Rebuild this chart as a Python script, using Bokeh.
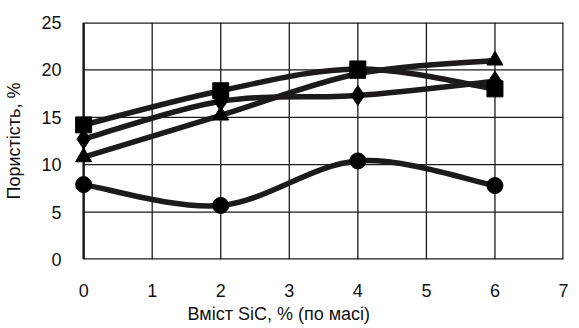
import numpy as np
from bokeh.plotting import figure
from bokeh.models import Range1d, FixedTicker, Title
from bokeh.embed import file_html
from bokeh.resources import INLINE

# ---- data ----
x_sic = [0, 2, 4, 6]
square_vals = [14.2, 17.8, 20.1, 18.0]
diamond_vals = [12.7, 16.7, 17.3, 18.8]
triangle_vals = [10.8, 15.2, 19.6, 21.0]
circle_vals = [7.9, 5.7, 10.4, 7.8]
x_ticks = [0, 1, 2, 3, 4, 5, 6, 7]
y_ticks = [0, 5, 10, 15, 20, 25]
x_label = "Вміст SiC, % (по масі)"
y_label = "Пористість, %"

INK = "#1c1a1a"
TXT = "#111111"
FONT = "Liberation Sans"
FS = "18px"


def smooth_segments(xs, ys):
    """Bezier control points (Catmull-Rom style smoothing, like Excel)."""
    P = np.column_stack([xs, ys]).astype(float)
    ext = np.vstack([P[0], P, P[-1]])
    out = dict(x0=[], y0=[], x1=[], y1=[], cx0=[], cy0=[], cx1=[], cy1=[])
    for i in range(len(P) - 1):
        p0, p1, p2, p3 = ext[i], ext[i + 1], ext[i + 2], ext[i + 3]
        c0 = p1 + (p2 - p0) / 6.0
        c1 = p2 - (p3 - p1) / 6.0
        out["x0"].append(p1[0]); out["y0"].append(p1[1])
        out["x1"].append(p2[0]); out["y1"].append(p2[1])
        out["cx0"].append(c0[0]); out["cy0"].append(c0[1])
        out["cx1"].append(c1[0]); out["cy1"].append(c1[1])
    return out


p = figure(
    output_backend="svg", toolbar_location=None,
    frame_width=497, frame_height=237,
    min_border_left=66, min_border_top=22, min_border_right=8, min_border_bottom=69,
    x_range=Range1d(-0.25, 7), y_range=Range1d(0, 25),
)
p.outline_line_color = None
p.background_fill_color = "white"
p.border_fill_color = "white"
p.xgrid.visible = False
p.ygrid.visible = False

# grid lines
gx = x_ticks[1:-1]
p.segment(x0=gx, y0=[y_ticks[0]] * len(gx), x1=gx, y1=[y_ticks[-1]] * len(gx),
          line_color=INK, line_width=1.3)
gy = y_ticks[1:-1]
p.segment(x0=[x_ticks[0]] * len(gy), y0=gy, x1=[x_ticks[-1]] * len(gy), y1=gy,
          line_color=INK, line_width=1.3)
# frame box
x0b, x1b, y0b, y1b = x_ticks[0], x_ticks[-1], y_ticks[0], y_ticks[-1]
p.segment(x0=[x0b, x1b, x0b, x0b], y0=[y0b, y0b, y0b, y1b],
          x1=[x0b, x1b, x1b, x1b], y1=[y1b, y1b, y0b, y1b],
          line_color=INK, line_width=2.5)

series = [
    (circle_vals, "circle", 16),
    (triangle_vals, "triangle", 16),
    (diamond_vals, "diamond", 20),
    (square_vals, "square", 16),
]
for vals, _, _ in series:
    s = smooth_segments(x_sic, vals)
    p.bezier(line_color=INK, line_width=5.5, line_cap="round", **s)
for vals, marker, size in series:
    p.scatter(x_sic, vals, marker=marker, size=size, fill_color="black", line_color="black")

for ax in (p.xaxis[0], p.yaxis[0]):
    ax.axis_line_color = None
    ax.major_tick_line_color = None
    ax.minor_tick_line_color = None
    ax.major_tick_out = 0
    ax.major_tick_in = 0
    ax.major_label_text_font = FONT
    ax.major_label_text_font_size = FS
    ax.major_label_text_color = TXT
    ax.axis_label_text_font = FONT
    ax.axis_label_text_font_size = FS
    ax.axis_label_text_font_style = "normal"
    ax.axis_label_text_color = TXT

p.xaxis.ticker = FixedTicker(ticks=x_ticks)
p.yaxis.ticker = FixedTicker(ticks=y_ticks)
p.xaxis.major_label_standoff = 24
p.yaxis.major_label_standoff = 5
p.yaxis.axis_label = y_label
p.yaxis.axis_label_standoff = 14

xt = Title(text=x_label, align="left", offset=121, standoff=4,
           text_font=FONT, text_font_size=FS, text_font_style="normal", text_color=TXT)
p.add_layout(xt, "below")

open("out.html", "w").write(file_html(p, INLINE))
